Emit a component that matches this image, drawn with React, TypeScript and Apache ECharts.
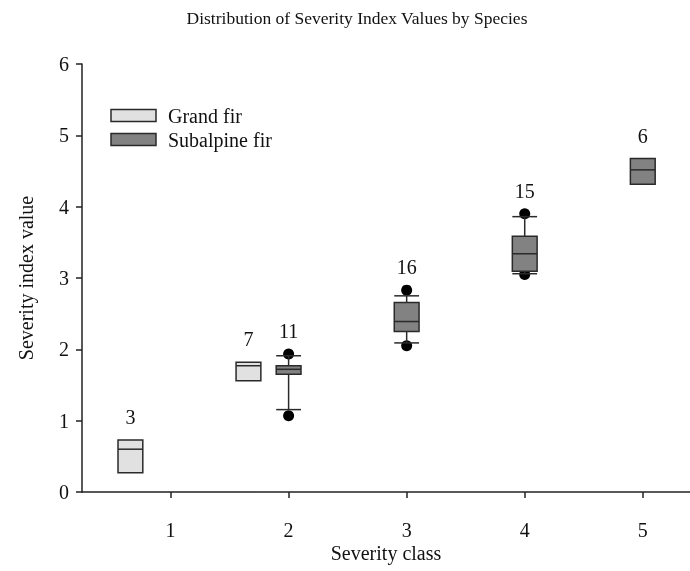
import React, { useEffect, useRef } from "react";
import * as echarts from "echarts";

// Grand fir
const gfClass = [1, 2];
const gfQ1 = [0.27, 1.56];
const gfMed = [0.6, 1.77];
const gfQ3 = [0.73, 1.82];
const gfN = [3, 7];

// Subalpine fir
const saClass = [2, 3, 4, 5];
const saLow: (number | null)[] = [1.155, 2.09, 3.06, null];
const saQ1 = [1.65, 2.25, 3.095, 4.316];
const saMed = [1.72, 2.39, 3.34, 4.516];
const saQ3 = [1.77, 2.655, 3.585, 4.675];
const saHigh: (number | null)[] = [1.91, 2.75, 3.86, null];
const saOutLow: (number | null)[] = [1.07, 2.05, 3.05, null];
const saOutHigh: (number | null)[] = [1.935, 2.83, 3.9, null];
const saN = [11, 16, 15, 6];

const xTicks = [1, 2, 3, 4, 5];
const GF_OFFSET = -0.34;
const BOX_W = 0.21;
const FONT = "Liberation Serif, Times New Roman, serif";
const GF_COLOR = "#e1e1e1";
const SA_COLOR = "#828282";
const EDGE = "#2a2a2a";
const TXT = "#111";
const FS = 20;

function makeRender(
  xs: number[],
  q1: number[],
  med: number[],
  q3: number[],
  low: (number | null)[] | null,
  high: (number | null)[] | null,
  fill: string
) {
  return (params: any, api: any) => {
    const i = params.dataIndex;
    const x = xs[i];
    const w = api.size([BOX_W, 0])[0];
    const pQ1 = api.coord([x, q1[i]]);
    const pQ3 = api.coord([x, q3[i]]);
    const pMed = api.coord([x, med[i]]);
    const children: any[] = [];
    const lineStyle = { stroke: EDGE, lineWidth: 1.5 };
    if (low && low[i] != null) {
      const pL = api.coord([x, low[i]]);
      children.push({ type: "line", shape: { x1: pL[0], y1: pL[1], x2: pQ1[0], y2: pQ1[1] }, style: lineStyle });
      children.push({ type: "line", shape: { x1: pL[0] - w / 2, y1: pL[1], x2: pL[0] + w / 2, y2: pL[1] }, style: lineStyle });
    }
    if (high && high[i] != null) {
      const pH = api.coord([x, high[i]]);
      children.push({ type: "line", shape: { x1: pH[0], y1: pH[1], x2: pQ3[0], y2: pQ3[1] }, style: lineStyle });
      children.push({ type: "line", shape: { x1: pH[0] - w / 2, y1: pH[1], x2: pH[0] + w / 2, y2: pH[1] }, style: lineStyle });
    }
    children.push({
      type: "rect",
      shape: { x: pQ3[0] - w / 2, y: pQ3[1], width: w, height: pQ1[1] - pQ3[1] },
      style: { fill, stroke: EDGE, lineWidth: 1.5 },
    });
    children.push({
      type: "line",
      shape: { x1: pMed[0] - w / 2, y1: pMed[1], x2: pMed[0] + w / 2, y2: pMed[1] },
      style: lineStyle,
    });
    return { type: "group", children };
  };
}

export default function App() {
  const ref = useRef<HTMLDivElement>(null);
  useEffect(() => {
    if (!ref.current) return;
    const chart = echarts.init(ref.current, null, { renderer: "svg" });

    const gfX = gfClass.map((c) => c + GF_OFFSET);
    const saTop = saClass.map((_, i) =>
      Math.max(saQ3[i], saHigh[i] ?? -Infinity, saOutHigh[i] ?? -Infinity)
    );
    const gfTop = gfClass.map((_, i) => gfQ3[i]);

    const outliers: number[][] = [];
    saClass.forEach((c, i) => {
      if (saOutLow[i] != null) outliers.push([c, saOutLow[i] as number]);
      if (saOutHigh[i] != null) outliers.push([c, saOutHigh[i] as number]);
    });

    const labelData = [
      ...gfX.map((x, i) => ({ value: [x, gfTop[i]], n: gfN[i] })),
      ...saClass.map((x, i) => ({ value: [x, saTop[i]], n: saN[i] })),
    ];

    chart.setOption({
      animation: false,
      grid: { left: 82, right: 0, top: 64, bottom: 79 },
      xAxis: {
        type: "value",
        min: 0.25,
        max: 5.4,
        name: "Severity class",
        nameLocation: "middle",
        nameGap: 51,
        nameMoveOverlap: false,
        nameTextStyle: { fontFamily: FONT, fontSize: FS, color: TXT },
        axisLine: { lineStyle: { color: "#222", width: 1.5 } },
        axisTick: { show: true, length: 6, customValues: xTicks, lineStyle: { color: "#222", width: 1.5 } },
        axisLabel: { customValues: xTicks, margin: 28, fontFamily: FONT, fontSize: FS, color: TXT },
        splitLine: { show: false },
      },
      yAxis: {
        type: "value",
        min: 0,
        max: 6,
        interval: 1,
        name: "Severity index value",
        nameLocation: "middle",
        nameGap: 46,
        nameMoveOverlap: false,
        nameTextStyle: { fontFamily: FONT, fontSize: FS, color: TXT },
        axisLine: { show: true, lineStyle: { color: "#222", width: 1.5 } },
        axisTick: { show: true, length: 6, lineStyle: { color: "#222", width: 1.5 } },
        axisLabel: { margin: 13, fontFamily: FONT, fontSize: FS, color: TXT },
        splitLine: { show: false },
      },
      graphic: [
        {
          type: "text",
          x: 357,
          y: 18,
          style: {
            text: "Distribution of Severity Index Values by Species",
            font: `17.5px ${FONT}`,
            fill: TXT,
            textAlign: "center",
            textVerticalAlign: "middle",
          },
        },
        {
          type: "rect",
          shape: { x: 111, y: 109.5, width: 45, height: 12 },
          style: { fill: GF_COLOR, stroke: EDGE, lineWidth: 1.5 },
        },
        {
          type: "text",
          x: 168,
          y: 115.5,
          style: { text: "Grand fir", font: `${FS}px ${FONT}`, fill: TXT, textVerticalAlign: "middle" },
        },
        {
          type: "rect",
          shape: { x: 111, y: 133.5, width: 45, height: 12 },
          style: { fill: SA_COLOR, stroke: EDGE, lineWidth: 1.5 },
        },
        {
          type: "text",
          x: 168,
          y: 139.5,
          style: { text: "Subalpine fir", font: `${FS}px ${FONT}`, fill: TXT, textVerticalAlign: "middle" },
        },
      ],
      series: [
        {
          type: "scatter",
          name: "outliers",
          data: outliers,
          symbol: "circle",
          symbolSize: 11,
          itemStyle: { color: "#000", opacity: 1 },
          z: 1,
        },
        {
          type: "custom",
          name: "Grand fir",
          data: gfX.map((x, i) => [x, gfQ1[i], gfMed[i], gfQ3[i]]),
          renderItem: makeRender(gfX, gfQ1, gfMed, gfQ3, null, null, GF_COLOR),
          encode: { x: 0, y: [1, 2, 3] },
          z: 2,
        },
        {
          type: "custom",
          name: "Subalpine fir",
          data: saClass.map((x, i) => [x, saQ1[i], saMed[i], saQ3[i]]),
          renderItem: makeRender(saClass, saQ1, saMed, saQ3, saLow, saHigh, SA_COLOR),
          encode: { x: 0, y: [1, 2, 3] },
          z: 2,
        },
        {
          type: "scatter",
          name: "counts",
          data: labelData,
          symbolSize: 0,
          silent: true,
          itemStyle: { opacity: 1 },
          label: {
            show: true,
            position: "top",
            distance: 13,
            formatter: (p: any) => String(p.data.n),
            fontFamily: FONT,
            fontSize: FS,
            color: TXT,
          },
          z: 3,
        },
      ],
    });
    return () => chart.dispose();
  }, []);
  return <div ref={ref} style={{ position: "fixed", left: 0, top: 0, width: 690, height: 571 }} />;
}
